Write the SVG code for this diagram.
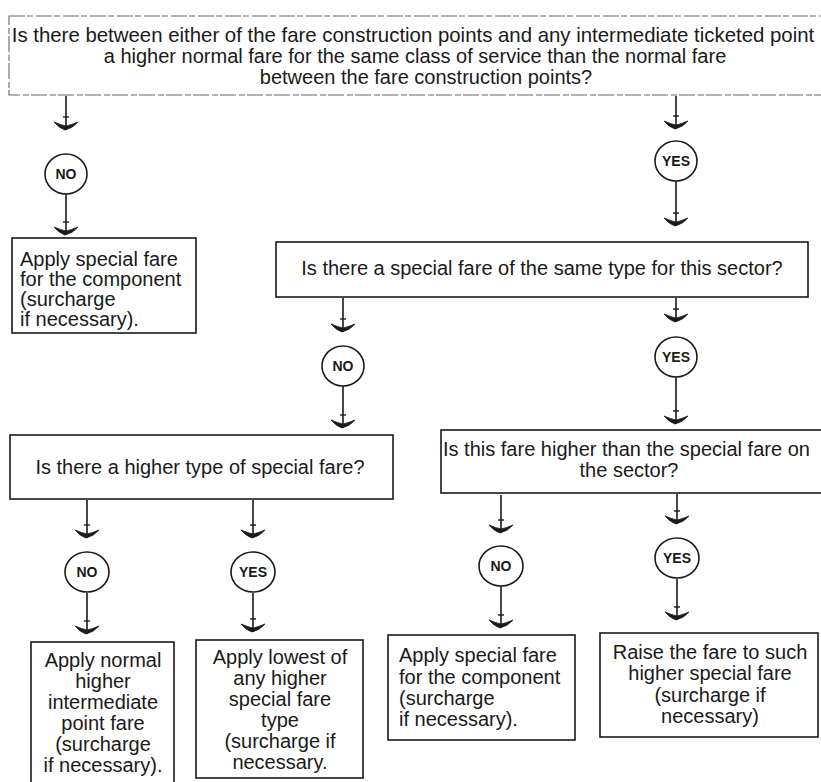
<svg xmlns="http://www.w3.org/2000/svg" width="821" height="782" viewBox="0 0 821 782">
<defs>
<style>
.bx{fill:#fff;stroke:#1a1a1a;stroke-width:1.6}
.bxd{fill:#fff;stroke:#666;stroke-width:1.1;stroke-dasharray:16 2 6 3}
.t{font-family:"Liberation Sans",Arial,sans-serif;font-size:20px;fill:#1a1a1a}
.c{text-anchor:middle}
.cl{font-family:"Liberation Sans",Arial,sans-serif;font-size:14px;font-weight:bold;fill:#1a1a1a;text-anchor:middle}
.ci{fill:#fff;stroke:#1a1a1a;stroke-width:1.6}
.ln{stroke:#1a1a1a;stroke-width:1.6;fill:none;marker-end:url(#ah)}
</style>
<marker id="ah" viewBox="-20 -15 22 30" refX="0" refY="0" markerWidth="22" markerHeight="30" markerUnits="userSpaceOnUse" orient="auto" overflow="visible">
<path d="M0,1 Q-2,-7 -8,-12 Q-5,-5 -4,0 Q-5,5 -8,12 Q-2,7 0,1 Z" fill="#1a1a1a" stroke="#1a1a1a" stroke-width="0.8"/>
<path d="M-13,-3 L-13,3" stroke="#1a1a1a" stroke-width="1.4"/>
</marker>
</defs>

<g id="connectors">
<line class="ln" x1="66" y1="96" x2="66" y2="130"/>
<line class="ln" x1="66" y1="194" x2="66" y2="235"/>
<line class="ln" x1="676" y1="96" x2="676" y2="129"/>
<line class="ln" x1="676" y1="181" x2="676" y2="226"/>
<line class="ln" x1="343" y1="298" x2="343" y2="332"/>
<line class="ln" x1="343" y1="386" x2="343" y2="428"/>
<line class="ln" x1="676" y1="298" x2="676" y2="322"/>
<line class="ln" x1="676" y1="377" x2="676" y2="424"/>
<line class="ln" x1="87" y1="500" x2="87" y2="538"/>
<line class="ln" x1="87" y1="593" x2="87" y2="634"/>
<line class="ln" x1="253" y1="500" x2="253" y2="538"/>
<line class="ln" x1="253" y1="593" x2="253" y2="632"/>
<line class="ln" x1="501" y1="495" x2="501" y2="533"/>
<line class="ln" x1="501" y1="586" x2="501" y2="628"/>
<line class="ln" x1="677" y1="494" x2="677" y2="524"/>
<line class="ln" x1="677" y1="579" x2="677" y2="620"/>
</g>

<g id="q1">
<rect class="bxd" x="9" y="16" width="830" height="79"/>
<text class="t c" x="413" y="42" style="font-size:20.4px">Is there between either of the fare construction points and any intermediate ticketed point</text>
<text class="t c" x="415" y="63">a higher normal fare for the same class of service than the normal fare</text>
<text class="t c" x="426" y="84">between the fare construction points?</text>
</g>

<g id="no1"><ellipse class="ci" cx="66" cy="174" rx="21" ry="20"/><text class="cl" x="66" y="179">NO</text></g>
<g id="yes1"><ellipse class="ci" cx="676" cy="161" rx="21" ry="20"/><text class="cl" x="676" y="166">YES</text></g>

<g id="r1">
<rect class="bx" x="12" y="238" width="184" height="95"/>
<text class="t" x="20" y="266">Apply special fare</text>
<text class="t" x="20" y="286">for the component</text>
<text class="t" x="20" y="306">(surcharge</text>
<text class="t" x="20" y="326">if necessary).</text>
</g>

<g id="q2">
<rect class="bx" x="276" y="242" width="532" height="55"/>
<text class="t c" x="542" y="275">Is there a special fare of the same type for this sector?</text>
</g>

<g id="no2"><ellipse class="ci" cx="343" cy="366" rx="21" ry="20"/><text class="cl" x="343" y="371">NO</text></g>
<g id="yes2"><ellipse class="ci" cx="676" cy="357" rx="21" ry="20"/><text class="cl" x="676" y="362">YES</text></g>

<g id="q3">
<rect class="bx" x="10" y="435" width="383" height="64"/>
<text class="t c" x="200" y="474">Is there a higher type of special fare?</text>
</g>

<g id="q4">
<rect class="bx" x="441" y="430" width="400" height="63"/>
<text class="t" x="443" y="456">Is this fare higher than the special fare on</text>
<text class="t c" x="629" y="477">the sector?</text>
</g>

<g id="no3"><ellipse class="ci" cx="87" cy="572" rx="22" ry="20"/><text class="cl" x="87" y="577">NO</text></g>
<g id="yes3"><ellipse class="ci" cx="253" cy="572" rx="22" ry="20"/><text class="cl" x="253" y="577">YES</text></g>
<g id="no4"><ellipse class="ci" cx="501" cy="566" rx="22" ry="20"/><text class="cl" x="501" y="571">NO</text></g>
<g id="yes4"><ellipse class="ci" cx="677" cy="558" rx="22" ry="20"/><text class="cl" x="677" y="563">YES</text></g>

<g id="r2">
<rect class="bx" x="31" y="642" width="143" height="142"/>
<text class="t c" x="103" y="667">Apply normal</text>
<text class="t c" x="103" y="688">higher</text>
<text class="t c" x="103" y="709">intermediate</text>
<text class="t c" x="103" y="730">point fare</text>
<text class="t c" x="103" y="751">(surcharge</text>
<text class="t c" x="103" y="772">if necessary).</text>
</g>

<g id="r3">
<rect class="bx" x="196" y="640" width="167" height="138"/>
<text class="t c" x="280" y="664">Apply lowest of</text>
<text class="t c" x="280" y="685">any higher</text>
<text class="t c" x="280" y="706">special fare</text>
<text class="t c" x="280" y="727">type</text>
<text class="t c" x="280" y="748">(surcharge if</text>
<text class="t c" x="280" y="769">necessary.</text>
</g>

<g id="r4">
<rect class="bx" x="388" y="635" width="187" height="105"/>
<text class="t" x="399" y="662">Apply special fare</text>
<text class="t" x="399" y="684">for the component</text>
<text class="t" x="399" y="705">(surcharge</text>
<text class="t" x="399" y="726">if necessary).</text>
</g>

<g id="r5">
<rect class="bx" x="600" y="633" width="218" height="104"/>
<text class="t c" x="710" y="659">Raise the fare to such</text>
<text class="t c" x="710" y="680">higher special fare</text>
<text class="t c" x="710" y="702">(surcharge if</text>
<text class="t c" x="710" y="723">necessary)</text>
</g>
</svg>
